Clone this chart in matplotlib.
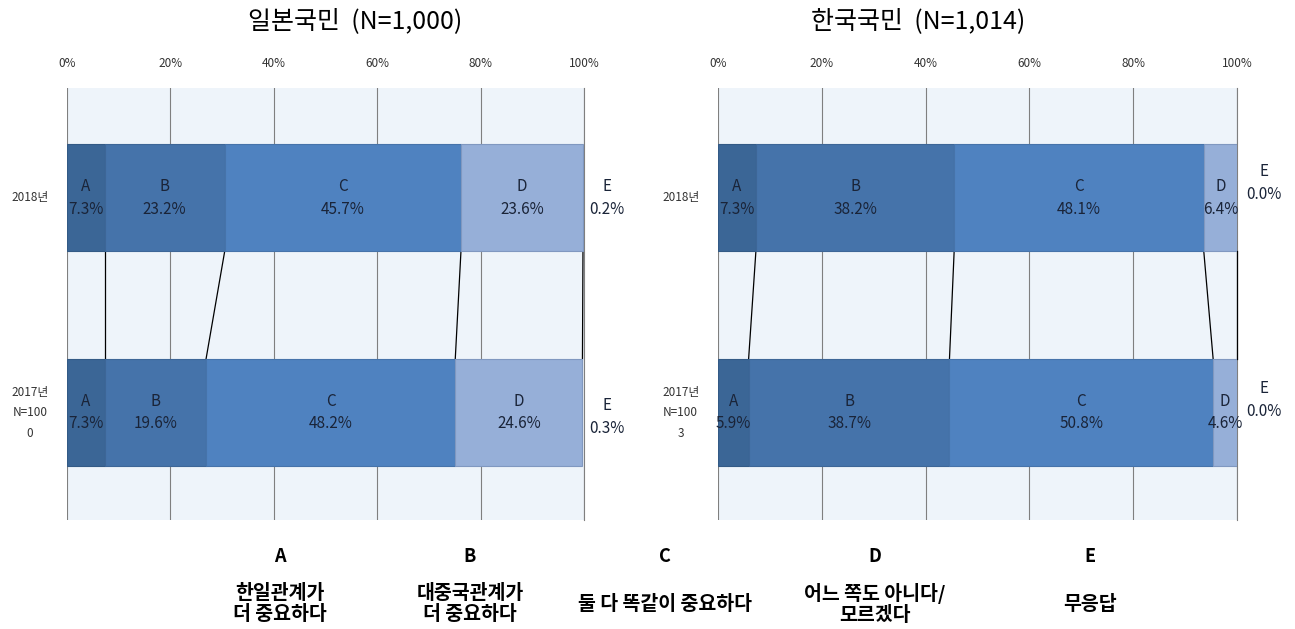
import matplotlib.pyplot as plt
import numpy as np

plt.rcParams['font.family'] = ['Noto Sans CJK KR', 'DejaVu Sans']

codes = ['A', 'B', 'C', 'D', 'E']
japan_labels = ['2018년', '2017년\nN=100\n0']
korea_labels = ['2018년', '2017년\nN=100\n3']

japan_2018 = [7.3, 23.2, 45.7, 23.6, 0.2]
japan_2017 = [7.3, 19.6, 48.2, 24.6, 0.3]
korea_2018 = [7.3, 38.2, 48.1, 6.4, 0.0]
korea_2017 = [5.9, 38.7, 50.8, 4.6, 0.0]

answers = ['한일관계가\n더 중요하다', '대중국관계가\n더 중요하다', '둘 다 똑같이 중요하다',
           '어느 쪽도 아니다/\n모르겠다', '무응답']

colors = ['#3b6696', '#4573aa', '#4f82c0', '#96afd8', '#c9d7ec']
edges = ['#335a85', '#3d6697', '#4673aa', '#8098c0', '#aabbd6']
bar_h = 0.5
txt_col = '#1a2438'

fig = plt.figure(figsize=(12.95, 6.29), dpi=100)


def draw_panel(ax, rows, ylabels, e_x, e_offsets):
    ax.set_facecolor('#eef4fa')
    for yi, vals in enumerate(rows):
        left = 0
        for k, v in enumerate(vals[:4]):
            ax.barh(yi, v, left=left, height=bar_h, color=colors[k],
                    edgecolor=edges[k], linewidth=0.8, zorder=3)
            ax.text(left + v / 2, yi, f'{codes[k]}\n{v:.1f}%', ha='center',
                    va='center', fontsize=11, color=txt_col, linespacing=1.45,
                    zorder=4)
            left += v
        ax.text(e_x, yi + e_offsets[yi], f'E\n{vals[4]:.1f}%', ha='center',
                va='center', fontsize=11, color=txt_col, linespacing=1.45,
                clip_on=False)
        ax.text(-0.072, yi, ylabels[yi], transform=ax.get_yaxis_transform(),
                ha='center', va='center', fontsize=8.5, color='#333333',
                linespacing=1.75)

    # lines joining the segment boundaries of the two bars
    c_top = np.cumsum(rows[0][:4])
    c_bot = np.cumsum(rows[1][:4])
    for a, b in zip(c_top, c_bot):
        ax.plot([a, b], [0 + bar_h / 2, 1 - bar_h / 2], color='black',
                linewidth=0.9, zorder=2, clip_on=False)

    ax.set_xlim(0, 100)
    ax.set_ylim(1.5, -0.51)
    ax.set_xticks(np.arange(0, 101, 20))
    ax.set_xticklabels([f'{t}%' for t in range(0, 101, 20)], fontsize=8.5,
                       color='#333333')
    ax.xaxis.tick_top()
    ax.tick_params(axis='x', length=0, pad=13)
    ax.set_yticks([])
    ax.xaxis.grid(True, color='#7f7f7f', linewidth=0.8, zorder=0)
    ax.axvline(100, color='#7f7f7f', linewidth=0.8, zorder=0, clip_on=False)
    ax.set_axisbelow(True)
    for s in ax.spines.values():
        s.set_visible(False)


ax1 = fig.add_axes([67 / 1295, 1 - 520 / 629, 517 / 1295, 432 / 629])
ax2 = fig.add_axes([718 / 1295, 1 - 520 / 629, 519 / 1295, 432 / 629])
draw_panel(ax1, [japan_2018, japan_2017], japan_labels, 104.5, [0.0, 0.02])
draw_panel(ax2, [korea_2018, korea_2017], korea_labels, 105.2, [-0.067, -0.058])

fig.text(355 / 1295, 1 - 21 / 629, '일본국민  (N=1,000)', ha='center',
         va='center', fontsize=18)
fig.text(918 / 1295, 1 - 21 / 629, '한국국민  (N=1,014)', ha='center',
         va='center', fontsize=18)

# answer key under the charts
key_x = [280, 470, 665, 875, 1090]
for x, code, txt in zip(key_x, codes, answers):
    fig.text(x / 1295, 1 - 557 / 629, code, ha='center', va='center',
             fontsize=13, fontweight='bold')
    fig.text(x / 1295, 1 - 604 / 629, txt, ha='center', va='center',
             fontsize=14, fontweight='bold', linespacing=1.15)

fig.savefig('out.png', dpi=100)
